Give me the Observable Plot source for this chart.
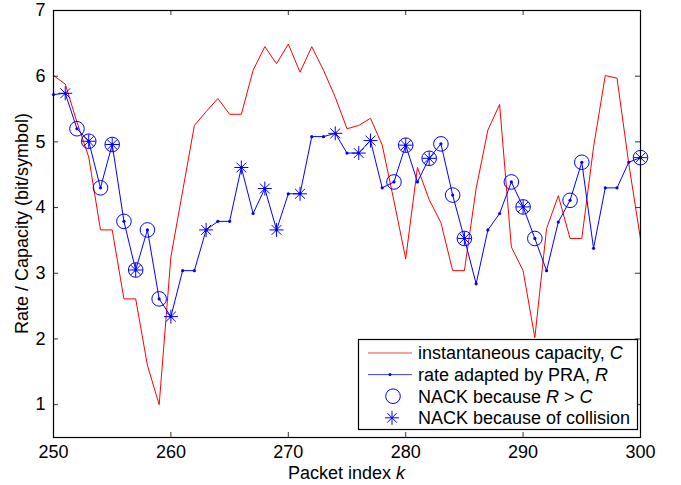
<!DOCTYPE html>
<html><head><meta charset="utf-8">
<script src="https://cdn.jsdelivr.net/npm/d3@7"></script>
<script src="https://cdn.jsdelivr.net/npm/@observablehq/plot@0.6"></script>
<style>
body{margin:0;background:#fff;}
#chart{position:relative;width:681px;height:485px;}
</style></head>
<body><div id="chart"></div>
<script>
// ---- data ----
const packets = d3.range(250, 301);
const capacity = [6.01,5.88,5.3,4.77,3.66,3.66,2.61,2.61,1.6,1.0,3.25,4.25,5.25,5.46,5.66,5.42,5.42,6.09,6.45,6.19,6.49,6.06,6.45,6.09,5.68,5.2,5.25,5.36,4.95,4.1,3.22,4.61,4.12,3.77,3.04,3.04,4.29,5.18,5.57,3.40,3.04,2.02,3.68,4.18,3.53,3.53,4.92,6.01,5.97,4.67,3.52];
const rate = [5.72,5.74,5.2,5.01,4.30,4.96,3.79,3.05,3.66,2.61,2.34,3.04,3.04,3.66,3.79,3.79,4.61,3.91,4.29,3.66,4.21,4.21,5.08,5.08,5.13,4.83,4.83,5.02,4.30,4.39,4.95,4.39,4.75,4.97,4.19,3.53,2.84,3.66,3.91,4.39,4.01,3.53,3.04,3.78,4.11,4.69,3.38,4.30,4.30,4.69,4.76];
const nackRC = [252,253,254,255,256,257,258,259,279,280,282,283,284,285,289,290,291,294,295,300];
const nackCollision = [251,253,255,257,260,263,266,268,269,271,274,276,277,280,282,285,290,300];
const xTicks = [250,260,270,280,290,300];
const yTicks = [1,2,3,4,5,6,7];

const capData = packets.map((k,i)=>({k, v: capacity[i]}));
const rateData = packets.map((k,i)=>({k, v: rate[i]}));
const rateAt = new Map(rateData.map(d=>[d.k,d.v]));
const rcData = nackRC.map(k=>({k, v: rateAt.get(k)}));
const colData = nackCollision.map(k=>({k, v: rateAt.get(k)}));

const asterisk8 = {draw(ctx, size){
  const r = Math.sqrt(size/Math.PI), d = r*0.7071;
  ctx.moveTo(-r,0); ctx.lineTo(r,0);
  ctx.moveTo(0,-r); ctx.lineTo(0,r);
  ctx.moveTo(-d,-d); ctx.lineTo(d,d);
  ctx.moveTo(-d,d); ctx.lineTo(d,-d);
}};

const W = 681, H = 485, mT = 10, mB = 48, mL = 53, mR = 41;
const frameH = H - mT - mB, frameW = W - mL - mR, tk = 5;
const font = '"Liberation Sans", Arial, Helvetica, sans-serif';
const FS = "18px";

const plot = Plot.plot({
  width: W, height: H,
  marginTop: mT, marginBottom: mB, marginLeft: mL, marginRight: mR,
  style: {fontFamily: font, fontSize: FS, color: "#000", background: "#fff"},
  x: {domain: [250, 300]},
  y: {domain: [0.5, 7]},
  marks: [
    Plot.line(capData, {x: "k", y: "v", stroke: "#ff0000", strokeWidth: 1}),
    Plot.line(rateData, {x: "k", y: "v", stroke: "#0000ff", strokeWidth: 1}),
    Plot.dot(rateData, {x: "k", y: "v", r: 1.6, fill: "#0000ff"}),
    Plot.dot(rcData, {x: "k", y: "v", r: 7.3, stroke: "#0000ff", fill: "none", strokeWidth: 1}),
    Plot.dot(colData, {x: "k", y: "v", r: 7, symbol: asterisk8, stroke: "#0000ff", fill: "none", strokeWidth: 1}),
    Plot.tickX(xTicks, {x: d=>d, insetTop: frameH - tk, stroke: "#333"}),
    Plot.tickX(xTicks, {x: d=>d, insetBottom: frameH - tk, stroke: "#333"}),
    Plot.tickY(yTicks, {y: d=>d, insetRight: frameW - tk, stroke: "#333"}),
    Plot.tickY(yTicks, {y: d=>d, insetLeft: frameW - tk, stroke: "#333"}),
    Plot.axisX({ticks: xTicks, tickSize: 0, tickPadding: 8, tickFormat: "d", label: null}),
    Plot.axisY({ticks: yTicks, tickSize: 0, tickPadding: 8, tickFormat: "d", label: null}),
    Plot.frame({stroke: "#000", strokeWidth: 1.2})
  ]
});

document.getElementById("chart").appendChild(plot);
const svg = d3.select(plot);

// axis titles
const xl = svg.append("text").attr("x", mL + frameW/2).attr("y", 479)
  .attr("text-anchor","middle").style("font-family", font).style("font-size",FS).attr("fill","#000");
xl.append("tspan").text("Packet index ");
xl.append("tspan").attr("font-style","italic").text("k");
svg.append("text").attr("transform", `translate(28,${mT + frameH/2}) rotate(-90)`)
  .attr("text-anchor","middle").style("font-family", font).style("font-size",FS).attr("fill","#000")
  .text("Rate / Capacity (bit/symbol)");

// legend
const legendItems = [
  {type: "cap", parts: [["instantaneous capacity, ", false], ["C", true]]},
  {type: "rate", parts: [["rate adapted by PRA, ", false], ["R", true]]},
  {type: "circle", parts: [["NACK because ", false], ["R", true], [" > ", false], ["C", true]]},
  {type: "star", parts: [["NACK because of collision", false]]}
];
const lg = svg.append("g");
lg.append("rect").attr("x", 358.5).attr("y", 339.5).attr("width", 279).attr("height", 90)
  .attr("fill","#fff").attr("stroke","#000").attr("stroke-width",1.2);
legendItems.forEach((it, i) => {
  const cy = 353 + i*21.6;
  const g = lg.append("g");
  if (it.type === "cap") g.append("line").attr("x1",368).attr("x2",412).attr("y1",cy).attr("y2",cy).attr("stroke","#ff4040").attr("stroke-width",1);
  if (it.type === "rate") {
    g.append("line").attr("x1",368).attr("x2",412).attr("y1",cy).attr("y2",cy).attr("stroke","#4040ff").attr("stroke-width",1);
    g.append("circle").attr("cx",390).attr("cy",cy).attr("r",1.5).attr("fill","#0000ff");
  }
  if (it.type === "circle") g.append("circle").attr("cx",393).attr("cy",cy).attr("r",7.3).attr("fill","none").attr("stroke","#0000ff");
  if (it.type === "star") {
    const p = d3.path(); asterisk8.draw(p, 7*7*Math.PI);
    g.append("path").attr("d", p.toString()).attr("transform",`translate(392,${cy})`).attr("fill","none").attr("stroke","#0000ff");
  }
  const t = g.append("text").attr("x", 418).attr("y", cy).attr("dy","0.36em").attr("text-anchor","start")
    .style("font-family", font).style("font-size",FS).attr("fill","#000");
  it.parts.forEach(([s, ital]) => { const ts = t.append("tspan").text(s); if (ital) ts.attr("font-style","italic"); });
});
</script>
</body></html>
